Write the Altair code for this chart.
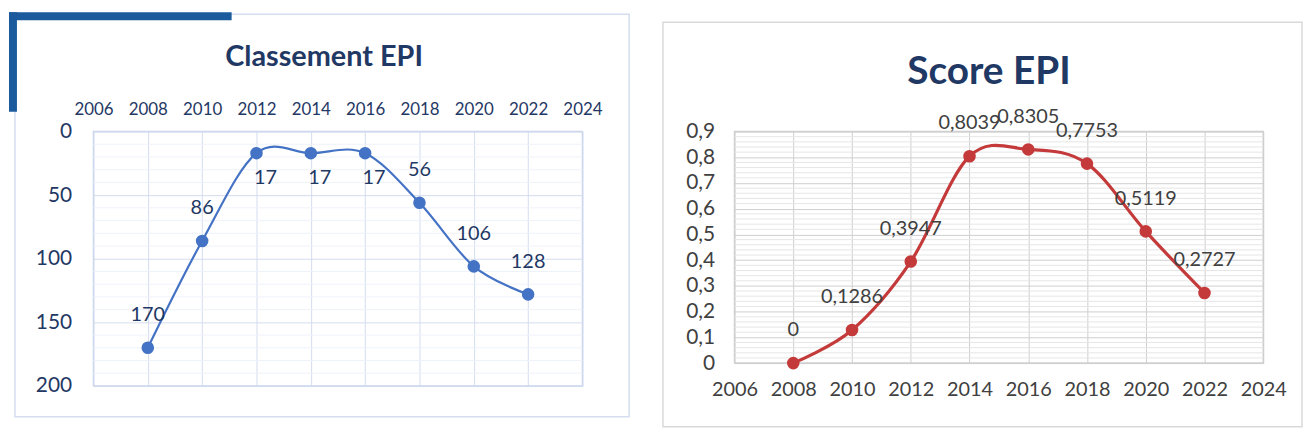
import altair as alt
import pandas as pd

# ---- data ----
years = [2008, 2010, 2012, 2014, 2016, 2018, 2020, 2022]
rank = [170, 86, 17, 17, 17, 56, 106, 128]
score = [0, 0.1286, 0.3947, 0.8039, 0.8305, 0.7753, 0.5119, 0.2727]
year_ticks = [2006, 2008, 2010, 2012, 2014, 2016, 2018, 2020, 2022, 2024]
rank_ticks = [0, 50, 100, 150, 200]
rank_minor = [10, 20, 30, 40, 60, 70, 80, 90, 110, 120, 130, 140, 160, 170, 180, 190]
score_ticks = [0, 0.1, 0.2, 0.3, 0.4, 0.5, 0.6, 0.7, 0.8, 0.9]
score_minor = [0.02, 0.04, 0.06, 0.08, 0.12, 0.14, 0.16, 0.18, 0.22, 0.24, 0.26, 0.28,
               0.32, 0.34, 0.36, 0.38, 0.42, 0.44, 0.46, 0.48, 0.52, 0.54, 0.56, 0.58,
               0.62, 0.64, 0.66, 0.68, 0.72, 0.74, 0.76, 0.78, 0.82, 0.84, 0.86, 0.88]

df = pd.DataFrame({"year": years, "rank": rank, "score": score})
dummy = pd.DataFrame({"d": [0]})

FONT = "Lato"
NAVY = "#1F3864"
GREY_TXT = "#404040"
BLUE = "#4472C4"
RED = "#C43A3A"

# ================= left: Classement EPI =================
LW, LH = 492, 256
xs_l = alt.Scale(domain=[2006, 2024], nice=False, zero=False)
ys_l = alt.Scale(domain=[0, 200], reverse=True, nice=False, zero=False)

ax_xl = alt.Axis(
    orient="top", values=year_ticks, format="d", title=None, labelFont=FONT,
    labelFontSize=17, labelColor=NAVY, ticks=False, domain=False, labelPadding=13,
    gridColor="#D3DCEF", labelFlush=False)
ax_yl = alt.Axis(
    values=rank_ticks, title=None, labelFont=FONT, labelFontSize=21, labelColor=NAVY,
    ticks=False, domain=False, labelPadding=22, gridColor="#D3DCEF")
x_l = alt.X("year:Q", scale=xs_l, axis=ax_xl)
y_l = alt.Y("rank:Q", scale=ys_l, axis=ax_yl)

minor_l = alt.Chart(pd.DataFrame({"rank": rank_minor})).mark_rule(
    color="#EEF2FA", strokeWidth=1).encode(y=y_l)
base_l = alt.Chart(df).encode(x=x_l, y=y_l)
line_l = base_l.mark_line(interpolate="cardinal", color=BLUE, strokeWidth=2.2)
pts_l = base_l.mark_circle(size=160, color=BLUE, opacity=1)
lab_up = base_l.mark_text(dy=-33, font=FONT, fontSize=20, color=NAVY).encode(
    text="rank:Q").transform_filter("datum.rank > 17")
lab_dn = base_l.mark_text(dx=9, dy=25, font=FONT, fontSize=20, color=NAVY).encode(
    text="rank:Q").transform_filter("datum.rank <= 17")
frame_l = alt.Chart(dummy).mark_rect(fillOpacity=0, stroke="#D5DDF0", strokeWidth=1.5).encode(
    x=alt.value(-79), x2=alt.value(539), y=alt.value(-118), y2=alt.value(287))
bar_h = alt.Chart(dummy).mark_rect(color="#1B5A9C").encode(
    x=alt.value(-85), x2=alt.value(139), y=alt.value(-120), y2=alt.value(-112))
bar_v = alt.Chart(dummy).mark_rect(color="#1B5A9C").encode(
    x=alt.value(-85), x2=alt.value(-77), y=alt.value(-120), y2=alt.value(-20))
title_l = alt.Chart(dummy).mark_text(
    text="Classement EPI", font=FONT, fontSize=29, fontWeight="bold", color=NAVY,
    align="center", baseline="middle").encode(x=alt.value(232), y=alt.value(-75))

left = alt.layer(minor_l, line_l, pts_l, lab_up, lab_dn, frame_l, bar_h, bar_v, title_l).properties(
    width=LW, height=LH,
    view=alt.ViewBackground(stroke="#C9D4EC", strokeWidth=1.5))

# ================= right: Score EPI =================
RW, RH = 532, 233
xs_r = alt.Scale(domain=[2006, 2024], nice=False, zero=False)
ys_r = alt.Scale(domain=[0, 0.9], nice=False, zero=False)

ax_xr = alt.Axis(
    values=year_ticks, format="d", title=None, labelFont=FONT, labelFontSize=20,
    labelColor=GREY_TXT, ticks=False, domain=False, labelPadding=17,
    gridColor="#CFCFCF", labelFlush=False)
ax_yr = alt.Axis(
    values=score_ticks, title=None, labelFont=FONT, labelFontSize=21, labelColor=GREY_TXT,
    ticks=False, domain=False, labelPadding=20, gridColor="#CFCFCF",
    labelExpr="datum.value == 0 ? '0' : replace(format(datum.value, '.1f'), '.', ',')")
x_r = alt.X("year:Q", scale=xs_r, axis=ax_xr)
y_r = alt.Y("score:Q", scale=ys_r, axis=ax_yr)

minor_r = alt.Chart(pd.DataFrame({"score": score_minor})).mark_rule(
    color="#E6E6E6", strokeWidth=1).encode(y=y_r)
base_r = alt.Chart(df).encode(x=x_r, y=y_r)
line_r = base_r.mark_line(interpolate="cardinal", color=RED, strokeWidth=3.2)
pts_r = base_r.mark_circle(size=160, color=RED, opacity=1)
lab_r = base_r.transform_calculate(
    lbl="replace(toString(datum.score), '.', ',')").mark_text(
    dy=-33, font=FONT, fontSize=20, color=GREY_TXT).encode(text="lbl:N")
frame_r = alt.Chart(dummy).mark_rect(fillOpacity=0, stroke="#D9D9D9", strokeWidth=1.5).encode(
    x=alt.value(-72), x2=alt.value(571), y=alt.value(-110), y2=alt.value(297))
pad_r = alt.Chart(dummy).mark_rect(opacity=0).encode(
    x=alt.value(-72), x2=alt.value(-71), y=alt.value(-112), y2=alt.value(-111))
title_r = alt.Chart(dummy).mark_text(
    text="Score EPI", font=FONT, fontSize=39, fontWeight="bold", color=NAVY,
    align="center", baseline="middle").encode(x=alt.value(256), y=alt.value(-60))

right = alt.layer(minor_r, line_r, pts_r, lab_r, frame_r, pad_r, title_r).properties(
    width=RW, height=RH,
    view=alt.ViewBackground(stroke="#CFCFCF", strokeWidth=1.5))

chart = alt.hconcat(alt.vconcat(left), alt.vconcat(right), spacing=30).properties(
    padding={"left": 0, "top": 2, "right": 0, "bottom": 0},
    background="white")

chart.save("out.html", embed_options={"renderer": "svg", "actions": False})
